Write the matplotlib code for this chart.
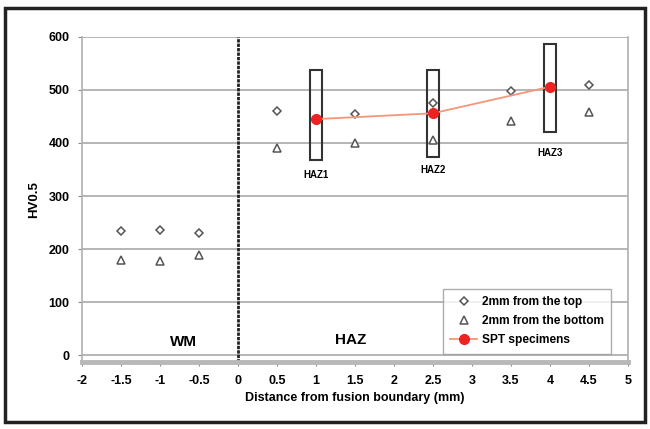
import numpy as np
import matplotlib
matplotlib.use("Agg")
import matplotlib.pyplot as plt
from matplotlib.patches import Rectangle

# Hardness readings (HV0.5) vs distance from fusion boundary
x_pos = [-1.5, -1, -0.5, 0.5, 1.5, 2.5, 3.5, 4.5]
top_hv = [234, 236, 230, 460, 455, 475, 498, 509]
bottom_hv = [179, 177, 189, 390, 400, 405, 442, 458]

spt_x = [1, 2.5, 4]
spt_hv = [445, 456, 506]

# SPT specimen boxes: (centre x, low, high, label, label y)
box_x = [1, 2.5, 4]
box_low = [368, 373, 421]
box_high = [537, 537, 587]
box_labels = ["HAZ1", "HAZ2", "HAZ3"]
label_y = [340, 349, 381]

plt.rcParams["font.family"] = ["Liberation Sans", "DejaVu Sans"]
plt.rcParams["font.weight"] = "bold"

fig = plt.figure(figsize=(6.5, 4.29), dpi=100)
ax = fig.add_axes([0.126, 0.156, 0.84, 0.758])

ax.set_xlim(-2, 5)
ax.set_ylim(-13, 600)
ax.set_yticks(np.arange(0, 601, 100))
ax.set_xticks(np.arange(-2, 5.01, 0.5))
ax.set_xticklabels(["-2", "-1.5", "-1", "-0.5", "0", "0.5", "1", "1.5", "2",
                    "2.5", "3", "3.5", "4", "4.5", "5"])
for y in range(0, 601, 100):
    ax.axhline(y, color="#b0b0b0", lw=1.3, zorder=0)

for s in ["left", "right", "top"]:
    ax.spines[s].set_color("#b0b0b0")
    ax.spines[s].set_linewidth(1.2)
ax.spines["top"].set_visible(False)
ax.spines["bottom"].set_color("#b8b8b8")
ax.spines["bottom"].set_linewidth(3.5)
ax.tick_params(axis="both", length=3, width=0.8, color="#888888",
               labelsize=9, pad=6)

ax.axvline(0, color="#222222", lw=2, ls=(0, (1.2, 0.4)), zorder=1)

for cx, lo, hi, lab, ly in zip(box_x, box_low, box_high, box_labels, label_y):
    ax.add_patch(Rectangle((cx - 0.075, lo), 0.15, hi - lo, fill=False,
                           ec="#333333", lw=1.5, zorder=2))
    ax.text(cx, ly, lab, ha="center", va="center", fontsize=7,
            fontweight="bold")

ax.plot(x_pos, top_hv, ls="none", marker="D", ms=4.2, mfc="white",
        mec="#555555", mew=1.1, label="2mm from the top", zorder=3)
ax.plot(x_pos, bottom_hv, ls="none", marker="^", ms=5.5, mfc="white",
        mec="#555555", mew=1.1, label="2mm from the bottom", zorder=3)
ax.plot(spt_x, spt_hv, color="#f4967a", lw=1.3, marker="o", ms=7,
        mfc="#ee2222", mec="#ee2222", label="SPT specimens", zorder=4)

ax.text(-0.7, 25, "WM", ha="center", va="center", fontsize=11,
        fontweight="bold")
ax.text(1.45, 28, "HAZ", ha="center", va="center", fontsize=11,
        fontweight="bold")

ax.set_xlabel("Distance from fusion boundary (mm)", fontsize=9,
              fontweight="bold", labelpad=4)
ax.set_ylabel("HV0.5", fontsize=9.5, fontweight="bold", labelpad=6)

leg = ax.legend(loc="lower right", bbox_to_anchor=(0.975, 0.015),
                fontsize=8.6, frameon=True, fancybox=False, handlelength=2.2,
                borderpad=0.6, labelspacing=0.6, handletextpad=0.4,
                borderaxespad=0.3)
leg.get_frame().set_edgecolor("#999999")
leg.get_frame().set_linewidth(1)

fig.patches.append(Rectangle((0.008, 0.016), 0.985, 0.966,
                             transform=fig.transFigure, fill=False,
                             ec="#222222", lw=2.5))

fig.savefig("out.png", dpi=100)
